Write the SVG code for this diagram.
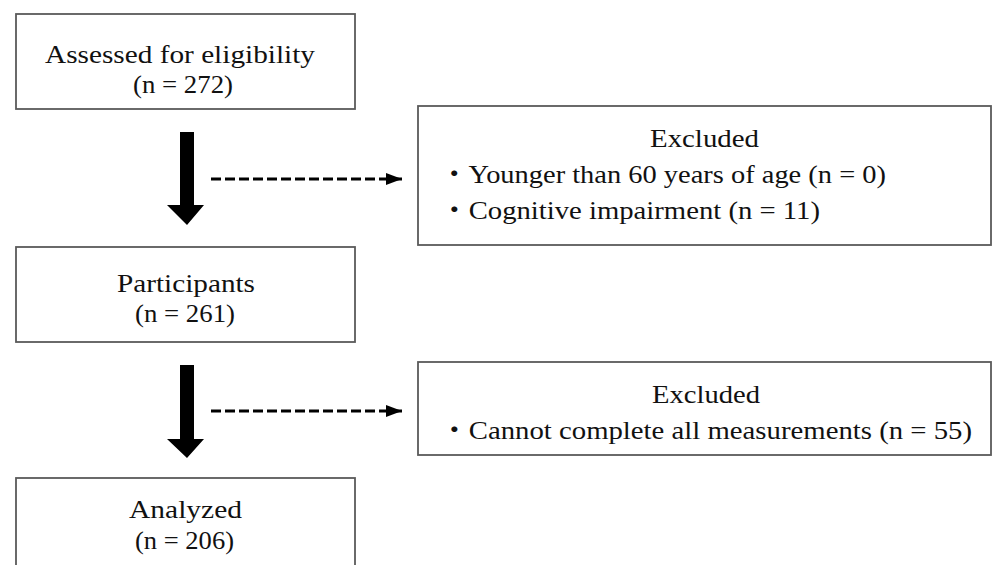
<svg xmlns="http://www.w3.org/2000/svg" width="992" height="565" viewBox="0 0 992 565">
<style>
.box{fill:#fff;stroke:#5a5a5a;stroke-width:1.8}
.t{font-family:"Liberation Serif","Noto Sans CJK JP",serif;font-size:26px;fill:#111}
.dash{stroke:#000;stroke-width:3;stroke-dasharray:10 4;fill:none}
.big{fill:#000}
</style>
<defs>
<marker id="ah" viewBox="0 0 16 12" refX="16" refY="6" markerWidth="16" markerHeight="12" markerUnits="userSpaceOnUse" orient="auto">
<path d="M0,0 L16,6 L0,12 Z" fill="#000"/>
</marker>
</defs>
<rect width="992" height="565" fill="#fff"/>
<g id="connectors">
<path class="big" d="M180,132 H194 V205 H204 L187,225 L167,205 H180 Z"/>
<path class="big" d="M180,365 H194 V439 H204 L187,458 L167,439 H180 Z"/>
<line class="dash" x1="211" y1="179" x2="402" y2="179" marker-end="url(#ah)"/>
<line class="dash" x1="211" y1="411" x2="402" y2="411" marker-end="url(#ah)"/>
</g>
<g id="node-assessed">
<rect class="box" x="16" y="14" width="339" height="95"/>
<text class="t" x="45" y="63" textLength="270" lengthAdjust="spacingAndGlyphs">Assessed for eligibility</text>
<text class="t" x="133" y="93" textLength="100" lengthAdjust="spacingAndGlyphs">(n = 272)</text>
</g>
<g id="node-excluded1">
<rect class="box" x="418" y="106" width="573" height="139"/>
<text class="t" x="650" y="147" textLength="109" lengthAdjust="spacingAndGlyphs">Excluded</text>
<text class="t" x="440" y="183" textLength="446" lengthAdjust="spacingAndGlyphs">・Younger than 60 years of age (n = 0)</text>
<text class="t" x="440" y="219" textLength="380" lengthAdjust="spacingAndGlyphs">・Cognitive impairment (n = 11)</text>
</g>
<g id="node-participants">
<rect class="box" x="16" y="247" width="339" height="95"/>
<text class="t" x="117" y="292" textLength="138" lengthAdjust="spacingAndGlyphs">Participants</text>
<text class="t" x="135" y="322" textLength="100" lengthAdjust="spacingAndGlyphs">(n = 261)</text>
</g>
<g id="node-excluded2">
<rect class="box" x="418" y="362" width="573" height="93"/>
<text class="t" x="652" y="403" textLength="108" lengthAdjust="spacingAndGlyphs">Excluded</text>
<text class="t" x="440" y="439" textLength="532" lengthAdjust="spacingAndGlyphs">・Cannot complete all measurements (n = 55)</text>
</g>
<g id="node-analyzed">
<rect class="box" x="16" y="478" width="339" height="110"/>
<text class="t" x="129" y="518" textLength="113" lengthAdjust="spacingAndGlyphs">Analyzed</text>
<text class="t" x="135" y="549" textLength="99" lengthAdjust="spacingAndGlyphs">(n = 206)</text>
</g>
</svg>
